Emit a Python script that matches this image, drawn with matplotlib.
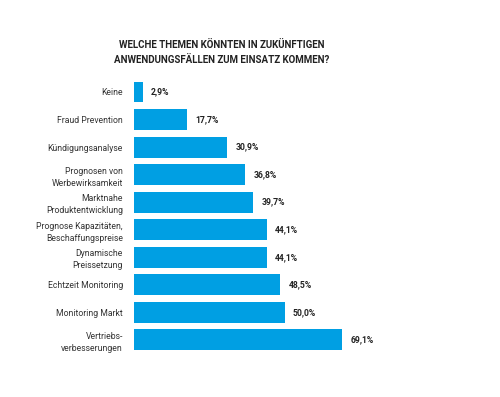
import matplotlib
matplotlib.use("Agg")
import matplotlib.pyplot as plt

plt.rcParams['font.family'] = ['Roboto', 'DejaVu Sans']

categories = [
    "Keine",
    "Fraud Prevention",
    "Kündigungsanalyse",
    "Prognosen von\nWerbewirksamkeit",
    "Marktnahe\nProduktentwicklung",
    "Prognose Kapazitäten,\nBeschaffungspreise",
    "Dynamische\nPreissetzung",
    "Echtzeit Monitoring",
    "Monitoring Markt",
    "Vertriebs-\nverbesserungen",
]
values = [2.9, 17.7, 30.9, 36.8, 39.7, 44.1, 44.1, 48.5, 50.0, 69.1]
title = "WELCHE THEMEN KÖNNTEN IN ZUKÜNFTIGEN\nANWENDUNGSFÄLLEN ZUM EINSATZ KOMMEN?"

BAR_COLOR = '#009fe3'

fig = plt.figure(figsize=(5.0, 3.97), dpi=100)
ax = fig.add_axes([0.268, 0.109, 0.602, 0.694])

y = list(range(len(values)))
ax.barh(y, values, height=0.76, color=BAR_COLOR)

# value labels next to bars
for yi, v in zip(y, values):
    ax.text(v + 2.8, yi, f"{v:.1f}%".replace('.', ','), va='center', ha='left',
            fontsize=6.2, fontweight='bold', color='#222222')

ax.set_yticks(y)
ax.set_yticklabels(categories, fontsize=6.2, color='#333333', linespacing=1.45)
ax.tick_params(axis='y', length=0, pad=8)
ax.set_xticks([])
ax.set_xlim(0, 100)
ax.set_ylim(len(values) - 0.5, -0.5)
for s in ax.spines.values():
    s.set_visible(False)

fig.text(0.444, 0.868, title, ha='center', va='center', fontsize=7,
         fontweight='bold', color='#222222', linespacing=1.65)

fig.savefig('out.png', dpi=100, facecolor='white')
